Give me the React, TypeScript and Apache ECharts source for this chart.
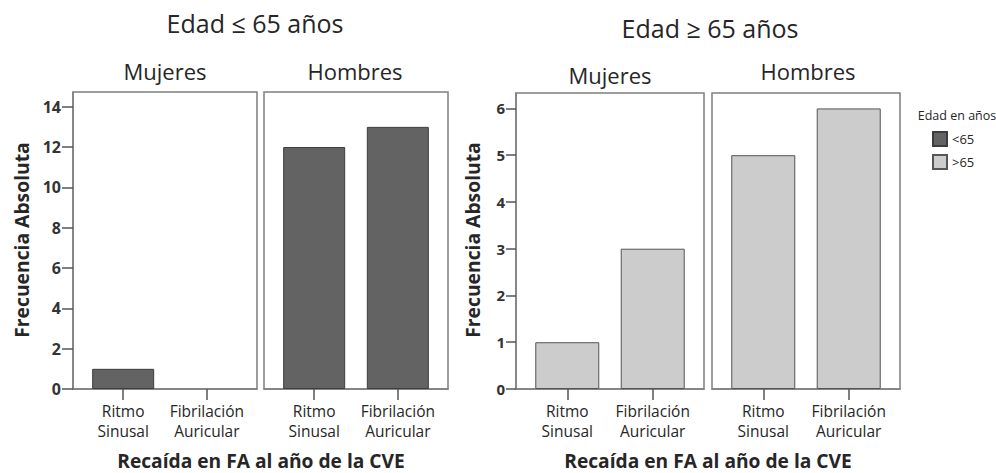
import React, { useEffect, useRef } from "react";
import * as echarts from "echarts";

const categories = ["Ritmo\nSinusal", "Fibrilación\nAuricular"];
const panelNames = ["Mujeres", "Hombres"];
const groupTitles = ["Edad ≤ 65 años", "Edad ≥ 65 años"];
const legendNames = ["<65", ">65"];
const menos65Mujeres = [1, 0];
const menos65Hombres = [12, 13];
const mas65Mujeres = [1, 3];
const mas65Hombres = [5, 6];
const leftTicks = [0, 2, 4, 6, 8, 10, 12, 14];
const rightTicks = [0, 1, 2, 3, 4, 5, 6];
const catPositions = [0, 1];

const FONT = "Open Sans";
const TXT = "#262626";
const FRAME = "#7f7f7f";
const DARK = { color: "#636363", borderColor: "#3d3d3d", borderWidth: 1 };
const LIGHT = { color: "#cccccc", borderColor: "#555555", borderWidth: 1 };

const grids = [
  { left: 73, top: 92, width: 184, height: 297 },
  { left: 264, top: 92, width: 184, height: 297 },
  { left: 516, top: 93, width: 188, height: 296 },
  { left: 712, top: 93, width: 188, height: 296 },
];

function xAxisFor(gridIndex: number) {
  return {
    type: "value",
    gridIndex,
    min: -0.6,
    max: 1.6,
    splitLine: { show: false },
    axisLine: { show: true, onZero: false, lineStyle: { color: FRAME, width: 1.5 } },
    axisTick: { show: true, customValues: catPositions, length: 11, lineStyle: { color: "#555", width: 1.5 } },
    axisLabel: {
      customValues: catPositions,
      formatter: (v: number) => categories[Math.round(v)],
      fontFamily: FONT,
      fontSize: 15.5,
      lineHeight: 20,
      color: TXT,
      margin: 12,
    },
  };
}

function yAxisFor(gridIndex: number, max: number, ticks: number[], show: boolean, fs: number, tl: number) {
  return {
    type: "value",
    gridIndex,
    min: 0,
    max,
    show,
    splitLine: { show: false },
    axisLine: { show: true, onZero: false, lineStyle: { color: FRAME, width: 1.5 } },
    axisTick: { show: true, customValues: ticks, length: tl, lineStyle: { color: "#555", width: 1.5 } },
    axisLabel: {
      customValues: ticks,
      fontFamily: FONT,
      fontSize: fs,
      fontWeight: "bold",
      color: "#333",
      margin: tl + 1,
    },
  };
}

function barSeries(name: string, idx: number, vals: number[], style: any, width: number) {
  return {
    type: "bar",
    name,
    xAxisIndex: idx,
    yAxisIndex: idx,
    barWidth: width,
    itemStyle: style,
    data: vals.map((v, i) => ({
      value: [catPositions[i], v],
      itemStyle: v === 0 ? { borderWidth: 0 } : undefined,
    })),
  };
}

function txt(text: string, x: number, y: number, size: number, weight = "normal", extra: any = {}) {
  return {
    type: "text",
    x,
    y,
    ...extra,
    style: {
      text,
      fontFamily: FONT,
      fontSize: size,
      fontWeight: weight,
      fill: TXT,
      align: "center",
      verticalAlign: "middle",
    },
  };
}

export default function App() {
  const ref = useRef<HTMLDivElement>(null);
  useEffect(() => {
    if (!ref.current) return;
    const chart = echarts.init(ref.current, null, { renderer: "svg" });
    chart.setOption({
      animation: false,
      backgroundColor: "#ffffff",
      grid: grids.map((g) => ({ ...g, show: true, borderColor: FRAME, borderWidth: 1.5, backgroundColor: "#fff" })),
      xAxis: [0, 1, 2, 3].map((i) => xAxisFor(i)),
      yAxis: [
        yAxisFor(0, 14.73, leftTicks, true, 16, 11),
        yAxisFor(1, 14.73, leftTicks, false, 16, 11),
        yAxisFor(2, 6.33, rightTicks, true, 15, 10),
        yAxisFor(3, 6.33, rightTicks, false, 15, 10),
      ],
      legend: {
        data: legendNames,
        orient: "vertical",
        left: 932,
        top: 131,
        padding: 0,
        itemWidth: 14,
        itemHeight: 14,
        itemGap: 7,
        icon: "rect",
        selectedMode: false,
        textStyle: { fontFamily: FONT, fontSize: 13, color: TXT },
      },
      series: [
        barSeries(legendNames[0], 0, menos65Mujeres, DARK, 62),
        barSeries(legendNames[0], 1, menos65Hombres, DARK, 62),
        barSeries(legendNames[1], 2, mas65Mujeres, LIGHT, 64),
        barSeries(legendNames[1], 3, mas65Hombres, LIGHT, 64),
      ],
      graphic: [
        txt(groupTitles[0], 255, 23, 25),
        txt(groupTitles[1], 710, 28, 25),
        txt(panelNames[0], 165, 71, 22),
        txt(panelNames[1], 355, 71, 22),
        txt(panelNames[0], 610, 75, 22),
        txt(panelNames[1], 808, 71, 22),
        txt("Frecuencia Absoluta", 21, 240, 19.3, "bold", { rotation: Math.PI / 2 }),
        txt("Frecuencia Absoluta", 472, 240, 19.3, "bold", { rotation: Math.PI / 2 }),
        txt("Recaída en FA al año de la CVE", 261, 460, 19.2, "bold"),
        txt("Recaída en FA al año de la CVE", 708, 460, 19.2, "bold"),
        txt("Edad en años", 957, 115, 12.5),
      ],
    });
    return () => chart.dispose();
  }, []);
  return (
    <div
      ref={ref}
      style={{ position: "fixed", left: 0, top: 0, width: 996, height: 473, background: "#fff" }}
    />
  );
}
